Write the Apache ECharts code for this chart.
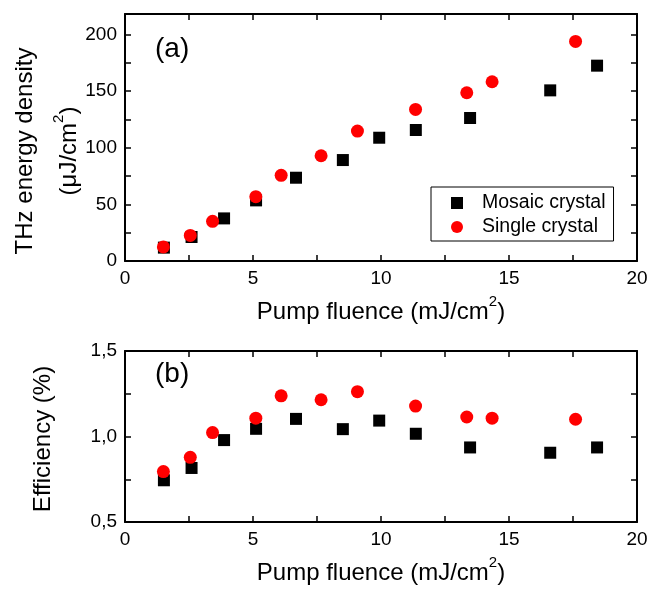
<!DOCTYPE html>
<html>
<head>
<meta charset="utf-8">
<script src="https://cdn.jsdelivr.net/npm/echarts@6/dist/echarts.min.js"></script>
<style>
  html, body { margin: 0; padding: 0; background: #fff; }
  #chart { width: 662px; height: 592px; }
</style>
</head>
<body>
<div id="chart"></div>
<script>
// values
const fluenceMosaic = [1.52, 2.60, 3.87, 5.12, 6.68, 8.51, 9.93, 11.36, 13.48, 16.61, 18.44];
const fluenceSingle = [1.50, 2.55, 3.42, 5.11, 6.10, 7.66, 9.08, 11.35, 13.35, 14.34, 17.60];
const energyMosaic = [11.8, 21.2, 37.6, 53.5, 73.5, 89.1, 108.8, 115.6, 126.2, 150.6, 172.4];
const energySingle = [12.4, 22.6, 35.0, 56.8, 75.6, 92.9, 114.7, 133.8, 148.5, 158.2, 193.8];
const effMosaic = [0.744, 0.816, 0.979, 1.045, 1.103, 1.043, 1.093, 1.016, 0.936, 0.905, 0.936];
const effSingle = [0.795, 0.878, 1.023, 1.107, 1.238, 1.215, 1.262, 1.178, 1.114, 1.107, 1.101];

const seriesNames = ["Mosaic crystal", "Single crystal"];
const xLabels = [0, 5, 10, 15, 20];
const energyLabels = [0, 50, 100, 150, 200];
const effLabels = [0.5, 1.0, 1.5];

const FONT = "'Liberation Sans', Arial, Helvetica, sans-serif";

function pairs(xs, ys) {
  return xs.map(function (x, i) { return [x, ys[i]]; });
}

function onList(list, v) {
  return list.some(function (t) { return Math.abs(t - v) < 1e-6; });
}

// box axis: line + inward ticks, labels only on the main side
function frameAxis(extra, labels, formatter) {
  let ax = {
    type: "value",
    axisLine: { show: true, onZero: false, lineStyle: { color: "#000", width: 2 } },
    axisTick: { show: true, inside: true, length: 6, lineStyle: { color: "#000", width: 1.5 } },
    splitLine: { show: false },
    axisLabel: {
      show: !!labels,
      color: "#000",
      fontSize: 19,
      fontFamily: FONT,
      margin: 8,
      formatter: function (v) {
        if (!labels || !onList(labels, v)) return "";
        return formatter ? formatter(v) : String(v);
      }
    }
  };
  return Object.assign(ax, extra);
}

const supRich = {
  sup: { fontSize: 15, fontFamily: FONT, color: "#000", verticalAlign: "top", lineHeight: 15 }
};

const xName = {
  name: "Pump fluence (mJ/cm{sup|2})",
  nameLocation: "middle",
  nameGap: 33,
  nameTextStyle: { fontSize: 24, fontFamily: FONT, color: "#000", lineHeight: 36, rich: supRich }
};

// legend icons as paths so they keep a square shape
const squareIcon = "path://M0,0L10,0L10,10L0,10Z";
const circleIcon = "path://M0,5A5,5,0,1,1,10,5A5,5,0,1,1,0,5Z";

const option = {
  backgroundColor: "#fff",
  animation: false,
  grid: [
    { left: 125, right: 25, top: 14, height: 247 },
    { left: 125, right: 25, top: 351, height: 172 }
  ],
  xAxis: [
    frameAxis(Object.assign({ gridIndex: 0, min: 0, max: 20, interval: 2.5, position: "bottom" }, xName), xLabels),
    frameAxis({ gridIndex: 0, min: 0, max: 20, interval: 2.5, position: "top" }),
    frameAxis(Object.assign({ gridIndex: 1, min: 0, max: 20, interval: 2.5, position: "bottom" }, xName), xLabels),
    frameAxis({ gridIndex: 1, min: 0, max: 20, interval: 2.5, position: "top" })
  ],
  yAxis: [
    frameAxis({ gridIndex: 0, min: 0, max: 218, interval: 25, position: "left" }, energyLabels),
    frameAxis({ gridIndex: 0, min: 0, max: 218, interval: 25, position: "right" }),
    frameAxis({ gridIndex: 1, min: 0.5, max: 1.5, interval: 0.25, position: "left" }, effLabels,
      function (v) { return v.toFixed(1).replace(".", ","); }),
    frameAxis({ gridIndex: 1, min: 0.5, max: 1.5, interval: 0.25, position: "right" })
  ],
  legend: {
    orient: "vertical",
    left: 431,
    top: 187,
    padding: [6, 8, 4, 20],
    itemGap: 4,
    itemWidth: 40,
    itemHeight: 12,
    symbolKeepAspect: true,
    borderColor: "#000",
    borderWidth: 1,
    borderRadius: 0,
    textStyle: { fontSize: 19.5, fontFamily: FONT, color: "#000" },
    data: [
      { name: seriesNames[0], icon: squareIcon },
      { name: seriesNames[1], icon: circleIcon }
    ]
  },
  graphic: [
    { type: "text", left: 155, top: 51 - 16, style: { text: "(a)", font: "28px " + FONT, fill: "#000" } },
    { type: "text", left: 155, top: 376 - 16, style: { text: "(b)", font: "28px " + FONT, fill: "#000" } },
    {
      type: "text", x: 25, y: 151, rotation: Math.PI / 2,
      style: { text: "THz energy density", font: "24px " + FONT, fill: "#000", align: "center", verticalAlign: "middle" }
    },
    {
      type: "text", x: 69, y: 151, rotation: Math.PI / 2,
      style: {
        text: "(μJ/cm{sup|2})", font: "24px " + FONT, fill: "#000", align: "center", verticalAlign: "middle",
        lineHeight: 36, rich: supRich
      }
    },
    {
      type: "text", x: 43, y: 439, rotation: Math.PI / 2,
      style: { text: "Efficiency (%)", font: "24px " + FONT, fill: "#000", align: "center", verticalAlign: "middle" }
    }
  ],
  series: [
    {
      name: seriesNames[0], type: "scatter", xAxisIndex: 0, yAxisIndex: 0,
      symbol: "rect", symbolSize: 12, itemStyle: { color: "#000", opacity: 1 },
      data: pairs(fluenceMosaic, energyMosaic)
    },
    {
      name: seriesNames[1], type: "scatter", xAxisIndex: 0, yAxisIndex: 0,
      symbol: "circle", symbolSize: 13, itemStyle: { color: "#ff0000", opacity: 1 },
      data: pairs(fluenceSingle, energySingle)
    },
    {
      name: seriesNames[0], type: "scatter", xAxisIndex: 2, yAxisIndex: 2,
      symbol: "rect", symbolSize: 12, itemStyle: { color: "#000", opacity: 1 },
      data: pairs(fluenceMosaic, effMosaic)
    },
    {
      name: seriesNames[1], type: "scatter", xAxisIndex: 2, yAxisIndex: 2,
      symbol: "circle", symbolSize: 13, itemStyle: { color: "#ff0000", opacity: 1 },
      data: pairs(fluenceSingle, effSingle)
    }
  ]
};

const myChart = echarts.init(document.getElementById("chart"), null, { renderer: "canvas" });
myChart.setOption(option);
</script>
</body>
</html>
